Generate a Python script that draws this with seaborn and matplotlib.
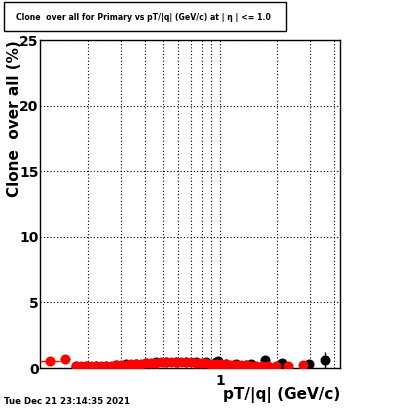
import matplotlib
matplotlib.use("Agg")
import pandas as pd
import matplotlib.pyplot as plt
from matplotlib.patches import Rectangle
from matplotlib.ticker import FixedLocator, FixedFormatter, MultipleLocator, NullFormatter
import seaborn as sns

# DATA
# red series: clone rate (%) vs pT/|q|
red_pt = [0.1256, 0.1508, 0.1724, 0.1832, 0.1948, 0.2069, 0.2199, 0.2337, 0.2484, 0.2640,
          0.2806, 0.2982, 0.3170, 0.3369, 0.3581, 0.3805, 0.4044, 0.4298, 0.4568, 0.4855,
          0.5160, 0.5484, 0.5828, 0.6194, 0.6583, 0.6998, 0.7437, 0.7905, 0.8401, 0.8929,
          0.9489, 1.0085, 1.072, 1.139, 1.211, 1.287, 1.368, 1.454, 1.545, 1.662,
          1.788, 1.971, 2.281, 2.739]
red_eff = [0.50, 0.65, 0.12, 0.12, 0.13, 0.13, 0.14, 0.15, 0.16, 0.17,
           0.20, 0.22, 0.25, 0.27, 0.30, 0.32, 0.35, 0.38, 0.40, 0.42,
           0.42, 0.44, 0.43, 0.44, 0.42, 0.42, 0.40, 0.38, 0.36, 0.33,
           0.30, 0.28, 0.27, 0.26, 0.24, 0.22, 0.20, 0.18, 0.16, 0.15,
           0.15, 0.12, 0.15, 0.20]
red_err = [0.15, 0.2, 0.05, 0.05, 0.05, 0.05, 0.05, 0.05, 0.05, 0.05,
           0.06, 0.06, 0.06, 0.06, 0.06, 0.06, 0.07, 0.07, 0.07, 0.07,
           0.07, 0.07, 0.07, 0.07, 0.08, 0.08, 0.08, 0.08, 0.08, 0.08,
           0.08, 0.08, 0.08, 0.08, 0.08, 0.08, 0.08, 0.09, 0.09, 0.1,
           0.1, 0.1, 0.12, 0.15]
red_xlo = [0.0139, 0.0084]   # visible bin half widths of the first two bins
red_xhi = [0.0168, 0.0092]

# black series
blk_pt = [0.1724, 0.1948, 0.2199, 0.2484, 0.2806, 0.3170, 0.3581, 0.4044, 0.4568, 0.5160,
          0.5828, 0.6583, 0.7437, 0.8401, 0.9489, 0.9800, 1.072, 1.211, 1.368, 1.454,
          1.724, 2.121, 2.946, 3.581]
blk_eff = [0.14, 0.15, 0.17, 0.19, 0.23, 0.28, 0.33, 0.38, 0.43, 0.46,
           0.47, 0.47, 0.46, 0.45, 0.48, 0.55, 0.32, 0.28, 0.25, 0.30,
           0.60, 0.38, 0.30, 0.60]
blk_err = [0.05, 0.05, 0.05, 0.05, 0.06, 0.06, 0.06, 0.07, 0.07, 0.07,
           0.07, 0.08, 0.08, 0.08, 0.08, 0.1, 0.08, 0.09, 0.09, 0.1,
           0.2, 0.15, 0.15, 0.6]

title = "Clone  over all for Primary vs pT/|q| (GeV/c) at | \u03b7 | <= 1.0"
ylabel = "Clone  over all (%)"
xlabel = "pT/|q| (GeV/c)"
stamp = "Tue Dec 21 23:14:35 2021"

red_df = pd.DataFrame({"pt": red_pt, "eff": red_eff})
blk_df = pd.DataFrame({"pt": blk_pt, "eff": blk_eff})

sns.set_style("white")
plt.rcParams['font.family'] = ['DejaVu Sans', 'Noto Sans']
for key in ["text.color", "axes.labelcolor", "xtick.color", "ytick.color", "axes.edgecolor"]:
    plt.rcParams[key] = "black"

fig = plt.figure(figsize=(4.0, 4.09), dpi=100)
ax = fig.add_axes([40 / 400, 41 / 409, 300 / 400, 328 / 409])
ax.set_xscale("log")

# black first, red on top
ax.errorbar(blk_pt, blk_eff, yerr=blk_err, fmt="none", ecolor="black", elinewidth=1, capsize=0, zorder=2)
sns.scatterplot(data=blk_df, x="pt", y="eff", ax=ax, color="black", s=52, linewidth=0, zorder=3)
red_xerr = [red_xlo + [0] * (len(red_pt) - 2), red_xhi + [0] * (len(red_pt) - 2)]
ax.errorbar(red_pt, red_eff, yerr=red_err, xerr=red_xerr, fmt="none", ecolor="red", elinewidth=1, capsize=0, zorder=4)
sns.scatterplot(data=red_df, x="pt", y="eff", ax=ax, color="red", s=52, linewidth=0, zorder=5)

ax.set_xlim(0.1117, 4.3)
ax.set_ylim(0, 25)

# ticks and grid, ROOT-like
ax.xaxis.set_major_locator(FixedLocator([1]))
ax.xaxis.set_major_formatter(FixedFormatter(["1"]))
ax.xaxis.set_minor_locator(FixedLocator([0.2, 0.3, 0.4, 0.5, 0.6, 0.7, 0.8, 0.9, 2, 3, 4]))
ax.xaxis.set_minor_formatter(NullFormatter())
ax.yaxis.set_major_locator(MultipleLocator(5))
ax.yaxis.set_minor_locator(MultipleLocator(1))
ax.tick_params(axis="both", which="major", direction="in", length=8, width=1, top=False, right=False,
               labelsize=10, colors="black")
ax.tick_params(axis="both", which="minor", direction="in", length=4, width=1, top=False, right=False,
               colors="black")
ax.tick_params(axis="y", pad=1)
ax.tick_params(axis="x", pad=4)
for lab in ax.get_xticklabels() + ax.get_yticklabels():
    lab.set_fontweight("bold")
ax.grid(True, which="both", axis="x", color="black", linestyle=(0, (1, 2)), linewidth=0.8)
ax.grid(True, which="major", axis="y", color="black", linestyle=(0, (1, 2)), linewidth=0.8)
for sp in ax.spines.values():
    sp.set_color("black")
    sp.set_linewidth(1)
ax.set_xlabel("")
ax.set_ylabel("")

# texts around the frame
fig.patches.append(Rectangle((4 / 400, 1 - 31 / 409), 282 / 400, 29 / 409, transform=fig.transFigure,
                             fill=False, edgecolor="black", linewidth=1))
fig.text(16 / 400, 1 - 17 / 409, title, ha="left", va="center", fontsize=5.6, fontweight="bold", color="black")
fig.text(15 / 400, 1 - 40 / 409, ylabel, rotation=90, ha="center", va="top", fontsize=11, fontweight="bold",
         color="black")
fig.text(340 / 400, 1 - 395 / 409, xlabel, ha="right", va="center", fontsize=11, fontweight="bold", color="black")
fig.text(4 / 400, 1 - 401 / 409, stamp, ha="left", va="center", fontsize=6.2, fontweight="bold", color="black")

fig.savefig("out.png", dpi=100)
